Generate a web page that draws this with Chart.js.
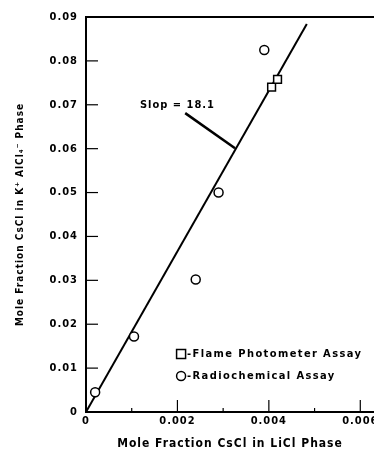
<!DOCTYPE html>
<html><head><meta charset="utf-8">
<script src="https://cdn.jsdelivr.net/npm/chart.js@4.4.1/dist/chart.umd.min.js"></script>
<style>html,body{margin:0;padding:0;background:#fff}#wrap{width:374px;height:451px}</style>
</head><body><div id="wrap"><canvas id="c" width="374" height="451"></canvas></div>
<script>
// Data
const radX = [0.0002, 0.00105, 0.0024, 0.0029, 0.0039];
const radY = [0.0045, 0.0172, 0.0302, 0.0500, 0.0825];
const flameX = [0.00406, 0.00419];
const flameY = [0.0740, 0.0758];
const fitX = [0, 0.00483];
const fitY = [0, 0.0884];
const leaderX = [0.00217, 0.00326];
const leaderY = [0.0681, 0.0601];
const xTickValues = [0, 0.001, 0.002, 0.003, 0.004, 0.005, 0.006];
const xTickLabels = ['0', '', '0.002', '', '0.004', '', '0.006'];
const yTickLabels = ['0', '0.01', '0.02', '0.03', '0.04', '0.05', '0.06', '0.07', '0.08', '0.09'];
const annotationText = 'Slop = 18.1';
const annotationPos = [0.00118, 0.0699];
const legendItems = [
  {shape: 'rect', text: '-Flame Photometer Assay', pos: [0.00208, 0.0132]},
  {shape: 'circle', text: '-Radiochemical Assay', pos: [0.00208, 0.0082]}
];

const pts = (xs, ys) => xs.map((x, i) => ({x, y: ys[i]}));
const FONT = "'DejaVu Sans Condensed', 'DejaVu Sans', sans-serif";
const SPACING = '1px';

const decor = {
  id: 'decor',
  beforeUpdate(chart) { chart.ctx.letterSpacing = SPACING; },
  beforeDraw(chart) { chart.ctx.letterSpacing = SPACING; },
  afterDatasetsDraw(chart) {
    const {ctx, chartArea: a, scales: {x, y}} = chart;
    ctx.save();
    ctx.strokeStyle = '#000';
    // top frame line
    ctx.lineWidth = 2;
    ctx.beginPath(); ctx.moveTo(a.left, a.top); ctx.lineTo(a.right, a.top); ctx.stroke();
    // inward ticks
    ctx.lineWidth = 1.2;
    xTickValues.forEach((v, i) => {
      const px = x.getPixelForValue(v);
      const len = xTickLabels[i] ? 12 : 4;
      ctx.beginPath(); ctx.moveTo(px, a.bottom); ctx.lineTo(px, a.bottom - len); ctx.stroke();
    });
    yTickLabels.forEach((l, i) => {
      const py = y.getPixelForValue(i * 0.01);
      ctx.beginPath(); ctx.moveTo(a.left, py); ctx.lineTo(a.left + 12, py); ctx.stroke();
    });
    // annotation
    ctx.fillStyle = '#000';
    ctx.font = "bold 11px " + FONT;
    ctx.textBaseline = 'middle';
    ctx.textAlign = 'left';
    ctx.letterSpacing = '1px';
    ctx.fillText(annotationText, x.getPixelForValue(annotationPos[0]), y.getPixelForValue(annotationPos[1]));
    // legend
    ctx.letterSpacing = '1.4px';
    legendItems.forEach(it => {
      const px = x.getPixelForValue(it.pos[0]);
      const py = y.getPixelForValue(it.pos[1]);
      ctx.lineWidth = 1.5;
      ctx.fillStyle = '#fff';
      ctx.beginPath();
      if (it.shape === 'rect') ctx.rect(px - 4.5, py - 4.5, 9, 9);
      else ctx.arc(px, py, 4.5, 0, Math.PI * 2);
      ctx.fill(); ctx.stroke();
      ctx.fillStyle = '#000';
      ctx.fillText(it.text, px + 6, py);
    });
    ctx.restore();
  }
};

new Chart(document.getElementById('c'), {
  type: 'scatter',
  data: {
    datasets: [
      {data: pts(fitX, fitY), showLine: true, borderColor: '#000', borderWidth: 2, pointRadius: 0, order: 3},
      {data: pts(leaderX, leaderY), showLine: true, borderColor: '#000', borderWidth: 2.5, pointRadius: 0, order: 3},
      {data: pts(radX, radY), pointStyle: 'circle', pointRadius: 4.5, pointBorderWidth: 1.5,
       borderColor: '#000', backgroundColor: '#fff', order: 1},
      {data: pts(flameX, flameY), pointStyle: 'rect', pointRadius: 5.5, pointBorderWidth: 1.5,
       borderColor: '#000', backgroundColor: '#fff', order: 1}
    ]
  },
  options: {
    responsive: false,
    animation: false,
    devicePixelRatio: 1,
    layout: {autoPadding: false, padding: {top: 17, right: 0, left: 0, bottom: 0}},
    plugins: {legend: {display: false}, tooltip: {enabled: false}},
    scales: {
      x: {
        type: 'linear', min: 0, max: 0.0063,
        afterBuildTicks(s) { s.ticks = xTickValues.map(v => ({value: v})); },
        afterFit(s) { s.height = 39; s.paddingRight = 0; s.paddingLeft = 0; },
        grid: {display: false, drawTicks: false},
        border: {display: true, color: '#000', width: 2},
        ticks: {
          color: '#000', font: {family: FONT, size: 11, weight: 'bold'}, padding: 3, maxRotation: 0,
          callback: (v, i) => xTickLabels[i]
        },
        title: {display: true, text: 'Mole Fraction CsCl in LiCl Phase', color: '#000',
                font: {family: FONT, size: 12, weight: 'bold'}, padding: {top: 5, bottom: 0}}
      },
      y: {
        type: 'linear', min: 0, max: 0.09,
        afterBuildTicks(s) { s.ticks = yTickLabels.map((l, i) => ({value: i * 0.01})); },
        afterFit(s) { s.width = 86; s.paddingTop = 0; s.paddingBottom = 0; },
        grid: {display: false, drawTicks: false},
        border: {display: true, color: '#000', width: 2},
        ticks: {
          color: '#000', font: {family: FONT, size: 11, weight: 'bold'}, padding: 8,
          callback: (v, i) => yTickLabels[i]
        },
        title: {display: true, text: 'Mole Fraction CsCl in K\u207A AlCl\u2084\u207B Phase', color: '#000',
                font: {family: FONT, size: 10, weight: 'bold'}, padding: {top: 14, bottom: 0}}
      }
    }
  },
  plugins: [decor]
});
</script></body></html>
